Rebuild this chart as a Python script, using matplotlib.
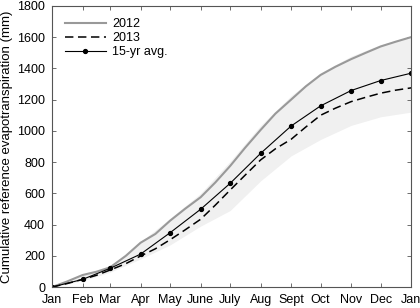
import numpy as np
import matplotlib.pyplot as plt

plt.rcParams['font.family'] = ['Liberation Sans', 'DejaVu Sans']

# month starts (day of year) and labels
month_days = [0, 31, 59, 90, 120, 151, 181, 212, 243, 273, 304, 334, 365]
month_labels = ['Jan', 'Feb', 'Mar', 'Apr', 'May', 'June', 'July', 'Aug',
                'Sept', 'Oct', 'Nov', 'Dec', 'Jan']

# semi-monthly days for the yearly curves
days = [0, 15, 31, 45, 59, 75, 90, 105, 120, 135, 151, 166, 181, 196, 212,
        227, 243, 258, 273, 288, 304, 319, 334, 349, 365]
et_2012 = [0, 35, 77, 98, 126, 200, 284, 340, 425, 500, 575, 670, 775, 890,
           1006, 1110, 1200, 1285, 1358, 1410, 1459, 1500, 1540, 1570, 1600]
et_2013 = [0, 22, 49, 75, 109, 150, 199, 245, 303, 365, 434, 525, 621, 715,
           814, 885, 946, 1025, 1100, 1145, 1187, 1215, 1241, 1260, 1275]

# 15-yr average and range at month starts
avg_15yr = [0, 49, 120, 211, 348, 498, 664, 856, 1031, 1160, 1258, 1322, 1369]
band_low = [0, 40, 95, 180, 270, 390, 490, 680, 840, 945, 1035, 1090, 1120]
band_high = [0, 75, 130, 290, 440, 600, 805, 1035, 1225, 1372, 1478, 1552, 1605]

fig = plt.figure(figsize=(4.2, 3.08), dpi=100)
ax = fig.add_axes([0.124, 0.068, 0.855, 0.913])

ax.fill_between(month_days, band_low, band_high, color='#f0f0f0', lw=0, zorder=0)
ax.plot(days, et_2012, color='#999999', lw=1.5, label='2012')
ax.plot(days, et_2013, color='black', lw=1.1, ls=(0, (5.5, 3)), label='2013')
ax.plot(month_days, avg_15yr, color='black', lw=0.8, marker='o', ms=2.8,
        label='15-yr avg.')

ax.set_xlim(0, 365)
ax.set_ylim(0, 1800)
ax.set_xticks(month_days)
ax.set_xticklabels(month_labels)
ax.set_yticks(np.arange(0, 1801, 200))
ax.tick_params(direction='in', top=True, right=True, length=3, width=0.6,
               color='#555555', labelsize=9)
ax.tick_params(axis='x', pad=5)
ax.tick_params(axis='y', pad=5)
for s in ax.spines.values():
    s.set_color('#555555')
    s.set_linewidth(0.8)

ax.set_ylabel('Cumulative reference evapotranspiration (mm)', fontsize=9.5,
              labelpad=3)
ax.legend(loc='upper left', frameon=False, fontsize=9, handlelength=3.3,
          labelspacing=0.15, borderaxespad=0.6, handletextpad=0.5)

fig.savefig('out.png', dpi=100)
